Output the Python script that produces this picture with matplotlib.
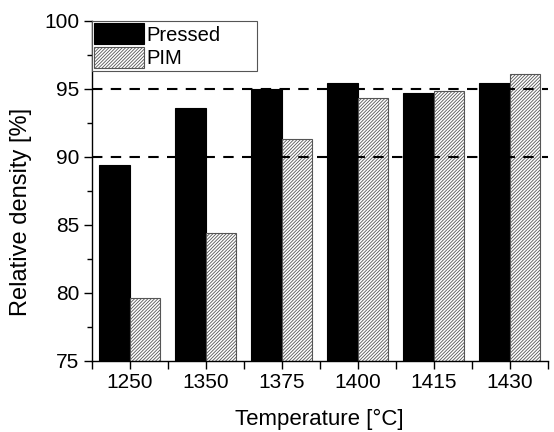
import matplotlib
matplotlib.use("Agg")
import matplotlib.pyplot as plt
import numpy as np

plt.rcParams['font.family'] = ['Liberation Sans', 'DejaVu Sans']
plt.rcParams['hatch.linewidth'] = 0.6
plt.rcParams['hatch.color'] = '#555555'

temperatures = ['1250', '1350', '1375', '1400', '1415', '1430']
pressed = [89.4, 93.6, 95.0, 95.4, 94.7, 95.4]
pim = [79.6, 84.4, 91.3, 94.3, 94.8, 96.1]
ref_lines = [90, 95]

fig = plt.figure(figsize=(5.54, 4.32), dpi=100)
ax = fig.add_axes([0.1655, 0.165, 0.823, 0.787])

x = np.arange(len(temperatures))
w = 0.4
ax.bar(x - w/2, pressed, width=w, color='black', edgecolor='black',
       linewidth=0.8, label='Pressed', zorder=2)
ax.bar(x + w/2, pim, width=w, color='white', edgecolor='#555555', hatch='//////////',
       linewidth=0.8, label='PIM', zorder=2)
for r in ref_lines:
    ax.axhline(r, color='black', linestyle=(0, (5, 4)), linewidth=1.5, zorder=3)

ax.set_xlim(-0.5, len(temperatures) - 0.5)
ax.set_ylim(75, 100)
ax.set_yticks([75, 80, 85, 90, 95, 100])
ax.set_yticks(np.arange(77.5, 100, 5), minor=True)
ax.set_xticks(x)
ax.set_xticklabels(temperatures)
ax.set_xticks(np.arange(-0.5, len(temperatures), 1), minor=True)
ax.tick_params(axis='both', which='major', direction='out', length=6, width=1,
               labelsize=15, pad=3)
ax.tick_params(axis='both', which='minor', direction='out', length=3.5, width=1)
ax.tick_params(axis='x', which='minor', length=6)
ax.spines['top'].set_visible(False)
ax.spines['right'].set_visible(False)
for s in ['left', 'bottom']:
    ax.spines[s].set_linewidth(1.0)
ax.set_xlabel('Temperature [°C]', fontsize=16, labelpad=12)
ax.set_ylabel('Relative density [%]', fontsize=17)
ax.yaxis.set_label_coords(-0.13, 0.437)

leg = ax.legend(loc='upper left', bbox_to_anchor=(0.0, 1.0, 0.362, 0.0), mode='expand',
                fontsize=14.5, handlelength=2.49, handleheight=1.24, handletextpad=0.1,
                labelspacing=0.13, borderpad=0.12, borderaxespad=0.0,
                fancybox=False, framealpha=1, edgecolor='#555555')
leg.get_frame().set_linewidth(0.8)

fig.savefig('out.png', dpi=100)
